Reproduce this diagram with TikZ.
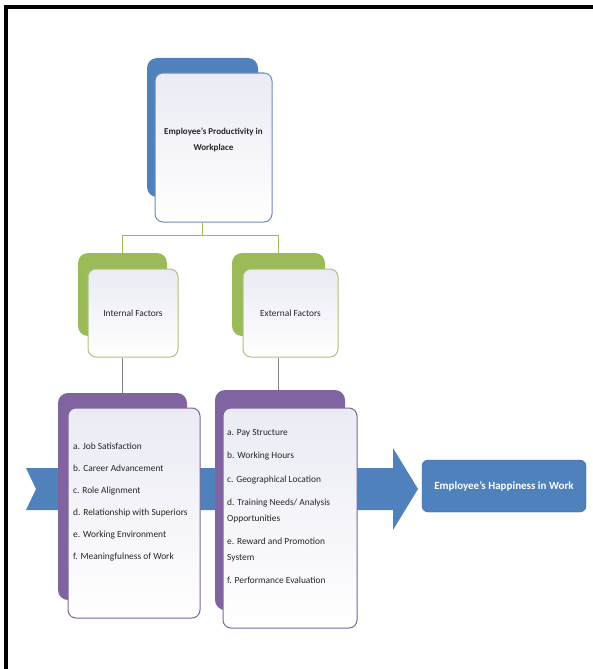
\documentclass[tikz,border=0pt]{standalone}
\usepackage{fontspec}
\setmainfont{Carlito}
\usetikzlibrary{calc}
\definecolor{boxblue}{RGB}{79,129,189}
\definecolor{boxgreen}{RGB}{155,187,89}
\definecolor{boxpurple}{RGB}{128,100,162}
\definecolor{frontfill}{RGB}{234,235,244}
\definecolor{lineblue}{RGB}{112,136,186}
\definecolor{linegreen}{RGB}{172,196,124}
\definecolor{textgray}{RGB}{38,38,38}
\tikzset{
  backbox/.style={rectangle,rounded corners=10pt,inner sep=0pt,draw=none},
  frontbox/.style={rectangle,rounded corners=8pt,inner sep=2pt,line width=1pt,
    top color=frontfill,bottom color=white,text=textgray,align=center},
  listtext/.style={inner sep=0pt,align=left,text=textgray,
    font=\fontsize{9.4}{15.5}\selectfont},
  tree/.style={boxgreen,line width=1.2pt},
  stem/.style={gray,line width=1pt}
}

\begin{document}
\begin{tikzpicture}[x=1pt,y=-1pt,font=\fontsize{9.4}{11}\selectfont]
\useasboundingbox (0,0) rectangle (593,669);
\draw[line width=4pt] (6,669)--(6,7)--(593,7); %frame

\fill[boxblue] (26,468)--(393,468)--(393,448)--(418,489)--(393,530)--(393,510)
--(26,510)--(36,489)--cycle; %big arrow behind lists

%top box
\node[backbox,fill=boxblue,minimum width=111pt,minimum height=139pt] (prodback) at (202.5,127.5){};
\node[frontbox,draw=lineblue,minimum width=117pt,minimum height=149pt] (prod) at (213.5,147.5){};
\node[align=center,text=textgray,font=\fontsize{9}{16}\selectfont\bfseries] (prodtext) at (213.5,140){Employee's Productivity in\\Workplace};

%factor boxes
\node[backbox,fill=boxgreen,minimum width=89pt,minimum height=83pt] (intback) at (122.5,294.5){};
\node[frontbox,draw=linegreen,minimum width=90pt,minimum height=88pt] (int) at (133,313){Internal Factors};
\node[backbox,fill=boxgreen,minimum width=93pt,minimum height=83pt] (extback) at (278.5,294.5){};
\node[frontbox,draw=linegreen,minimum width=95pt,minimum height=88pt] (ext) at (290.5,313){External Factors};

%list boxes
\node[backbox,fill=boxpurple,minimum width=129pt,minimum height=207pt] (intlistback) at (122.5,496.5){};
\node[frontbox,draw=boxpurple,minimum width=132pt,minimum height=210pt] (intlistbox) at (134,513){};
\node[backbox,fill=boxpurple,minimum width=130pt,minimum height=220pt] (extlistback) at (280,500){};
\node[frontbox,draw=boxpurple,minimum width=134pt,minimum height=220pt] (extlistbox) at (290,518){};

\node[listtext,anchor=north west] (intlist) at (73,443){a. Job Satisfaction\\[6.5pt]
b. Career Advancement\\[6.5pt]
c. Role Alignment\\[6.5pt]
d. Relationship with Superiors\\[6.5pt]
e. Working Environment\\[6.5pt]
f. Meaningfulness of Work};
\node[listtext,anchor=north west] (extlist) at (227,429){a. Pay Structure\\[8pt]
b. Working Hours\\[8pt]
c. Geographical Location\\[8pt]
d. Training Needs/ Analysis\\
Opportunities\\[8pt]
e. Reward and Promotion\\
System\\[8pt]
f. Performance Evaluation};

%result
\node[rectangle,rounded corners=6pt,fill=boxblue,draw=boxblue!80!black,text=white,
  minimum width=164pt,minimum height=52pt,font=\fontsize{11}{13}\selectfont\bfseries] (happy) at (504,486){Employee's Happiness in Work};

%connectors
\draw[tree] (prodback.south |- prod.south)--++(0,13) coordinate (split);
\draw[tree] (intback.north) |- (split) -| (extback.north);
\draw[stem] (intback.south |- int.south)--(intlistback.north);
\draw[stem] (extback.south |- ext.south)--(extback.south |- extlistback.north);

\end{tikzpicture}
\end{document}
